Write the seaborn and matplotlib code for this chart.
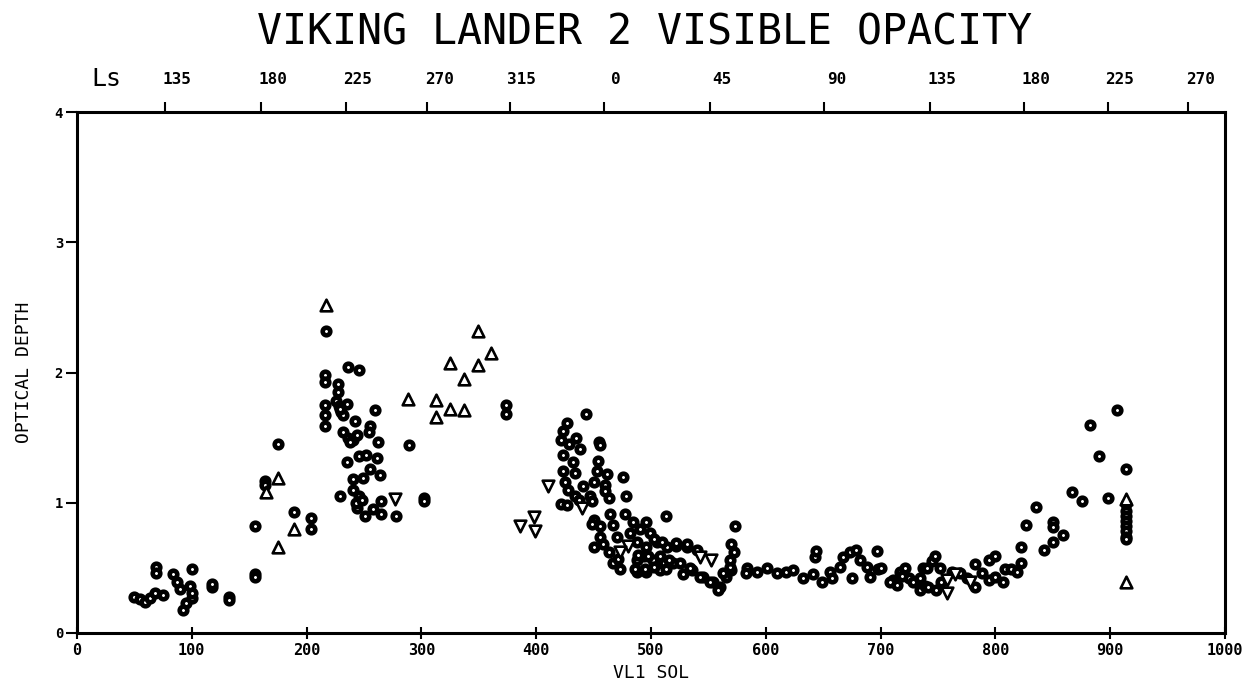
import matplotlib
matplotlib.use("Agg")
import matplotlib.pyplot as plt
import matplotlib.transforms as mtransforms
import seaborn as sns
import pandas as pd

# ---------------- data ----------------
circle_sol = [50,55,59,64,68,69,69,75,84,87,90,92,95,98,100,100,100,118,118,132,132,
              155,155,155,164,164,175,189,204,204,
              217,236,246,216,216,227,227,226,228,230,232,229,216,216,216,235,260,242,255,254,
              232,236,240,244,238,262,289,235,246,252,261,255,240,249,264,240,246,229,244,251,
              258,265,265,243,248,278,302,302,374,374,
              443,427,423,422,435,429,438,455,456,423,432,454,423,434,453,462,476,425,441,450,
              460,428,434,447,460,463,478,422,427,437,449,450,449,464,477,456,467,456,470,450,
              458,463,467,473,471,484,496,482,490,499,513,488,496,505,514,522,531,540,488,494,
              502,511,488,496,508,519,528,536,545,554,560,565,570,
              573,503,510,522,531,489,497,508,516,486,495,503,513,525,534,543,551,558,563,569,
              569,572,570,
              584,583,592,601,610,618,624,632,641,643,644,649,656,665,667,673,679,682,688,691,
              697,698,675,658,700,
              711,717,721,725,731,734,737,739,708,714,719,728,734,740,745,747,752,741,748,753,
              762,769,775,782,782,788,794,794,800,800,807,808,814,819,822,822,827,835,842,850,
              850,850,859,867,875,882,890,898,906,914,914,914,914,914,914,914,914,914]
circle_tau = [0.28,0.26,0.24,0.27,0.31,0.51,0.46,0.29,0.45,0.39,0.34,0.18,0.23,0.36,0.49,0.27,0.31,0.35,0.38,0.28,0.25,
              0.82,0.45,0.43,1.17,1.14,1.45,0.93,0.88,0.80,
              2.32,2.04,2.02,1.98,1.93,1.91,1.85,1.78,1.74,1.70,1.67,1.72,1.75,1.67,1.59,1.76,1.71,1.63,1.59,1.54,
              1.54,1.50,1.48,1.52,1.47,1.47,1.44,1.31,1.36,1.37,1.34,1.26,1.18,1.19,1.21,1.10,1.05,1.05,0.96,0.90,
              0.95,1.01,0.91,1.00,1.02,0.90,1.04,1.01,1.75,1.68,
              1.68,1.61,1.55,1.48,1.50,1.45,1.41,1.47,1.44,1.37,1.31,1.32,1.24,1.23,1.24,1.22,1.20,1.16,1.13,1.16,
              1.14,1.10,1.05,1.05,1.09,1.04,1.05,0.99,0.98,1.02,1.01,0.87,0.84,0.91,0.91,0.82,0.83,0.74,0.74,0.66,
              0.68,0.62,0.54,0.49,0.57,0.85,0.85,0.77,0.80,0.77,0.90,0.70,0.66,0.70,0.66,0.67,0.66,0.64,0.56,0.59,
              0.56,0.54,0.47,0.47,0.48,0.54,0.45,0.48,0.43,0.39,0.35,0.43,0.48,
              0.82,0.72,0.70,0.69,0.68,0.60,0.59,0.59,0.56,0.49,0.49,0.51,0.49,0.54,0.50,0.43,0.39,0.33,0.46,0.51,
              0.56,0.62,0.68,
              0.50,0.46,0.47,0.50,0.46,0.47,0.48,0.42,0.45,0.58,0.63,0.39,0.47,0.51,0.58,0.62,0.64,0.56,0.51,0.43,
              0.63,0.49,0.42,0.42,0.50,
              0.41,0.47,0.50,0.42,0.39,0.33,0.50,0.36,0.39,0.37,0.44,0.39,0.42,0.50,0.55,0.59,0.50,0.35,0.33,0.39,
              0.47,0.46,0.42,0.35,0.53,0.46,0.41,0.56,0.59,0.43,0.39,0.49,0.49,0.47,0.54,0.66,0.83,0.97,0.64,0.70,
              0.85,0.81,0.75,1.08,1.01,1.60,1.36,1.04,1.71,1.26,0.99,0.94,0.90,0.86,0.82,0.78,0.74,0.72]

tri_up_sol = [165,175,175,189,217,288,313,313,325,337,325,349,337,349,361,914,914]
tri_up_tau = [1.08,1.19,0.66,0.80,2.52,1.80,1.79,1.66,1.72,1.71,2.07,2.06,1.95,2.32,2.15,1.03,0.39]

tri_dn_sol = [277,386,398,399,410,440,480,473,543,552,758,758,778,765]
tri_dn_tau = [1.03,0.82,0.89,0.78,1.13,0.96,0.67,0.62,0.58,0.56,0.41,0.31,0.39,0.45]

x_ticks = [0,100,200,300,400,500,600,700,800,900,1000]
y_ticks = [0,1,2,3,4]
ls_sols = [77,160,234,305,377,459,551,651,743,825,898,968]
ls_labels = ["135","180","225","270","315","0","45","90","135","180","225","270"]

# ---------------- plot ----------------
sns.set_theme(style="white")
plt.rcParams['font.family'] = ['DejaVu Sans Mono', 'DejaVu Sans']
plt.rcParams['text.color'] = 'black'
plt.rcParams['axes.labelcolor'] = 'black'
plt.rcParams['xtick.color'] = 'black'
plt.rcParams['ytick.color'] = 'black'

fig = plt.figure(figsize=(12.49, 6.90), dpi=100)
ax = fig.add_axes([77/1249, 1-633/690, (1225-77)/1249, (633-112)/690])

df_c = pd.DataFrame({"sol": circle_sol, "tau": circle_tau})
df_u = pd.DataFrame({"sol": tri_up_sol, "tau": tri_up_tau})
df_d = pd.DataFrame({"sol": tri_dn_sol, "tau": tri_dn_tau})

sns.scatterplot(data=df_c, x="sol", y="tau", ax=ax, marker="o", s=30,
                facecolor="white", edgecolor="black", linewidth=3.3, zorder=3)
sns.scatterplot(data=df_u, x="sol", y="tau", ax=ax, marker="^", s=70,
                facecolor="white", edgecolor="black", linewidth=1.9, zorder=4)
sns.scatterplot(data=df_d, x="sol", y="tau", ax=ax, marker="v", s=70,
                facecolor="white", edgecolor="black", linewidth=1.9, zorder=4)

ax.set_xlim(0, 1000)
ax.set_ylim(0, 4)
ax.set_xticks(x_ticks)
ax.set_yticks(y_ticks)
ax.set_xticklabels([str(t) for t in x_ticks], fontsize=11, fontweight="bold")
ax.set_yticklabels([str(t) for t in y_ticks], fontsize=10, fontweight="bold")
ax.tick_params(axis="x", direction="inout", length=9, width=1.5, pad=3, bottom=True)
ax.tick_params(axis="y", direction="out", length=8, width=1.5, pad=2, left=True)
for sp in ax.spines.values():
    sp.set_visible(True)
    sp.set_color("black")
    sp.set_linewidth(2.2)

ax.set_xlabel("VL1 SOL", fontsize=13, labelpad=4)
ax.set_ylabel("OPTICAL DEPTH", fontsize=13, labelpad=16)

top = ax.secondary_xaxis("top")
top.set_xticks(ls_sols)
top.set_xticklabels(ls_labels, fontsize=11.5, fontweight="bold")
top.tick_params(axis="x", direction="out", length=7, width=1.5, pad=11)
top.spines["top"].set_visible(False)
shift = mtransforms.ScaledTranslation(12/100, 0, fig.dpi_scale_trans)
for lbl in top.get_xticklabels():
    lbl.set_transform(lbl.get_transform() + shift)

fig.text(0.085, 0.886, "Ls", fontsize=18, ha="center", va="center")
fig.text(0.516, 0.953, "VIKING LANDER 2 VISIBLE OPACITY", fontsize=30, ha="center", va="center")

fig.savefig("out.png", dpi=100, facecolor="white")
